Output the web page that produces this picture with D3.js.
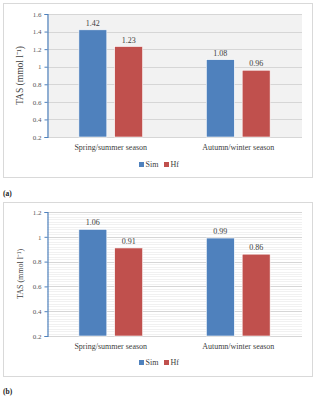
<!DOCTYPE html>
<html>
<head>
<meta charset="utf-8">
<script src="https://cdn.jsdelivr.net/npm/d3@7"></script>
<style>
  body { margin: 0; background: #fff; }
  svg text { font-family: "Liberation Serif", "Times New Roman", serif; }
</style>
</head>
<body>
<svg id="chart" width="320" height="397"></svg>
<script>
const categories = ["Spring/summer season", "Autumn/winter season"];
const seriesNames = ["Sim", "Hf"];
const simA = [1.42, 1.08];
const hfA = [1.23, 0.96];
const simB = [1.06, 0.99];
const hfB = [0.91, 0.86];
const ticksA = [0.2, 0.4, 0.6, 0.8, 1, 1.2, 1.4, 1.6];
const ticksB = [0.2, 0.4, 0.6, 0.8, 1, 1.2];

const colors = ["#4f81bd", "#c0504d"];
const svg = d3.select("#chart");

function panel(opt) {
  const g = svg.append("g");

  // outer frame
  g.append("rect")
    .attr("x", 3.5).attr("y", opt.top + 0.5)
    .attr("width", 309).attr("height", opt.frameH)
    .attr("fill", "#fff").attr("stroke", "#d9d9d9");

  const x0 = d3.scaleBand().domain(categories).range([47, 302]);
  const y = d3.scaleLinear().domain(opt.domain).range([opt.plotBottom, opt.plotTop]);

  // plot background
  g.append("rect")
    .attr("x", 47).attr("y", opt.plotTop)
    .attr("width", 255).attr("height", opt.plotBottom - opt.plotTop)
    .attr("fill", opt.bg);

  if (opt.minor) {
    const minorTicks = d3.range(opt.domain[0], opt.domain[1] + 1e-9, 0.02);
    g.selectAll(".minor").data(minorTicks).enter().append("line")
      .attr("x1", 47).attr("x2", 302)
      .attr("y1", d => Math.round(y(d)) + 0.5).attr("y2", d => Math.round(y(d)) + 0.5)
      .attr("stroke", "#f1f1f1").attr("stroke-width", 1);
  }
  g.selectAll(".grid").data(opt.ticks).enter().append("line")
    .attr("x1", 47).attr("x2", 302)
    .attr("y1", d => Math.round(y(d)) + 0.5).attr("y2", d => Math.round(y(d)) + 0.5)
    .attr("stroke", "#d6d6d6");

  // bars
  const x1 = d3.scaleBand().domain(seriesNames).range([0, x0.bandwidth()]).paddingInner(0.22).paddingOuter(0.89);
  categories.forEach((c, i) => {
    const vals = [opt.sim[i], opt.hf[i]];
    vals.forEach((v, j) => {
      const bx = x0(c) + x1(seriesNames[j]);
      g.append("rect")
        .attr("x", bx).attr("y", y(v))
        .attr("width", x1.bandwidth()).attr("height", y(opt.domain[0]) - y(v))
        .attr("fill", colors[j]).attr("stroke", "#fff").attr("stroke-width", 0.6);
      g.append("text")
        .attr("x", bx + x1.bandwidth() / 2).attr("y", y(v) - 4)
        .attr("text-anchor", "middle").attr("font-size", 8).attr("fill", "#404040")
        .text(v.toFixed(2));
    });
    g.append("text")
      .attr("x", x0(c) + x0.bandwidth() / 2).attr("y", opt.plotBottom + 13)
      .attr("text-anchor", "middle").attr("font-size", 8).attr("fill", "#404040")
      .text(c);
  });

  // y axis
  const axis = g.append("g")
    .attr("transform", "translate(47.5,0)")
    .call(d3.axisLeft(y).tickValues(opt.ticks).tickSize(3).tickPadding(3)
      .tickFormat(d => d3.format("~g")(d)));
  axis.select(".domain").attr("stroke", "#4f81bd").attr("stroke-width", 1.2);
  axis.selectAll(".tick line").attr("stroke", "#4f81bd");
  axis.selectAll(".tick text").attr("font-size", 7).attr("fill", "#595959")
    .style("font-family", "'Liberation Serif', serif");

  g.append("text")
    .attr("transform", `translate(${opt.labelX},${(opt.plotTop + opt.plotBottom) / 2}) rotate(-90)`)
    .attr("text-anchor", "middle").attr("font-size", opt.labelSize).attr("fill", "#404040")
    .text("TAS (mmol l⁻¹)");

  // legend
  const lg = g.append("g").attr("transform", `translate(139,${opt.legendY})`);
  seriesNames.forEach((s, j) => {
    const lx = j * 25;
    lg.append("rect").attr("x", lx).attr("y", -5).attr("width", 5).attr("height", 5).attr("fill", colors[j]);
    lg.append("text").attr("x", lx + 6.5).attr("y", 0).attr("font-size", 8).attr("fill", "#404040").text(s);
  });

  g.append("text")
    .attr("x", 3).attr("y", opt.capY)
    .attr("font-size", 7.5).attr("font-weight", "bold").attr("fill", "#222")
    .text(opt.caption);
}

panel({ top: 3, frameH: 174, plotTop: 14, plotBottom: 137, domain: [0.2, 1.6], ticks: ticksA,
  sim: simA, hf: hfA, bg: "#f2f2f2", minor: false, labelX: 23, labelSize: 9.5,
  legendY: 167, capY: 196, caption: "(a)" });

panel({ top: 202, frameH: 174, plotTop: 212, plotBottom: 336, domain: [0.2, 1.2], ticks: ticksB,
  sim: simB, hf: hfB, bg: "#ffffff", minor: true, labelX: 23, labelSize: 8,
  legendY: 365, capY: 394, caption: "(b)" });
</script>
</body>
</html>
